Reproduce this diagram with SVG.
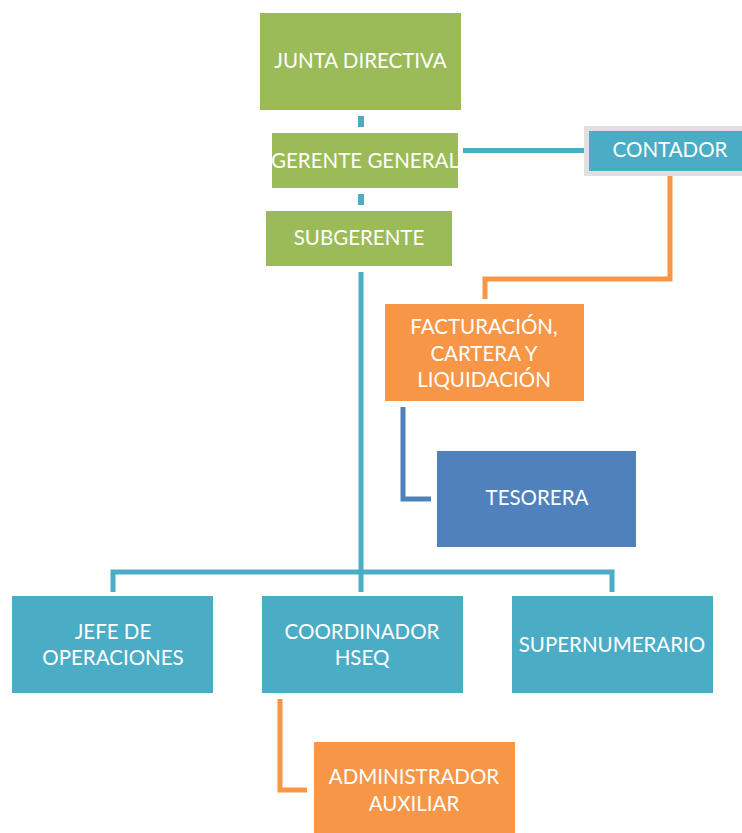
<svg xmlns="http://www.w3.org/2000/svg" width="742" height="833" viewBox="0 0 742 833">
<style>
.g{fill:#9BBB59}
.b{fill:#4BACC6}
.o{fill:#F79646}
.d{fill:#4F81BD}
text{font-family:Lato,"Open Sans","Liberation Sans",sans-serif;font-size:20.5px;fill:#FFFFFF;text-anchor:middle}
.lb{stroke:#4BACC6;stroke-width:5;fill:none}
.lo{stroke:#F79646;stroke-width:5;fill:none}
.ld{stroke:#4F81BD;stroke-width:5;fill:none}
</style>
<rect width="742" height="833" fill="#FFFFFF"/>
<g id="connectors">
<line class="lb" x1="361" y1="116" x2="361" y2="127" style="stroke-width:6"/>
<line class="lb" x1="361" y1="194" x2="361" y2="205" style="stroke-width:6"/>
<line class="lb" x1="463" y1="150.5" x2="584" y2="150.5"/>
<polyline class="lo" points="670,176 670,279 485,279 485,299"/>
<polyline class="ld" points="403,407 403,499 431,499"/>
<line class="lb" x1="361" y1="272" x2="361" y2="592"/>
<polyline class="lb" points="113,592 113,572 612,572 612,592"/>
<polyline class="lo" points="280,699 280,790 307,790"/>
</g>
<g id="junta"><rect class="g" x="260" y="13" width="201" height="97"/><text x="360.5" y="68">JUNTA DIRECTIVA</text></g>
<g id="gerente"><rect class="g" x="272" y="133" width="186" height="55"/><text x="365" y="168">GERENTE GENERAL</text></g>
<g id="subgerente"><rect class="g" x="266" y="211" width="186" height="55"/><text x="359" y="245">SUBGERENTE</text></g>
<g id="contador"><rect x="584" y="126" width="160" height="50" fill="#E0E0E0"/><rect class="b" x="589" y="131" width="155" height="40"/><text x="670" y="157">CONTADOR</text></g>
<g id="facturacion"><rect class="o" x="385" y="304" width="199" height="97"/><text x="484" y="334">FACTURACIÓN,</text><text x="484" y="361">CARTERA Y</text><text x="484" y="387">LIQUIDACIÓN</text></g>
<g id="tesorera"><rect class="d" x="437" y="451" width="199" height="96"/><text x="537" y="505">TESORERA</text></g>
<g id="jefe"><rect class="b" x="12" y="596" width="201" height="97"/><text x="113" y="639">JEFE DE</text><text x="113" y="665">OPERACIONES</text></g>
<g id="coordinador"><rect class="b" x="262" y="596" width="201" height="97"/><text x="362" y="639">COORDINADOR</text><text x="362" y="665">HSEQ</text></g>
<g id="supernumerario"><rect class="b" x="512" y="596" width="201" height="97"/><text x="612" y="652">SUPERNUMERARIO</text></g>
<g id="administrador"><rect class="o" x="314" y="742" width="201" height="91"/><text x="414" y="784">ADMINISTRADOR</text><text x="414" y="811">AUXILIAR</text></g>
</svg>
